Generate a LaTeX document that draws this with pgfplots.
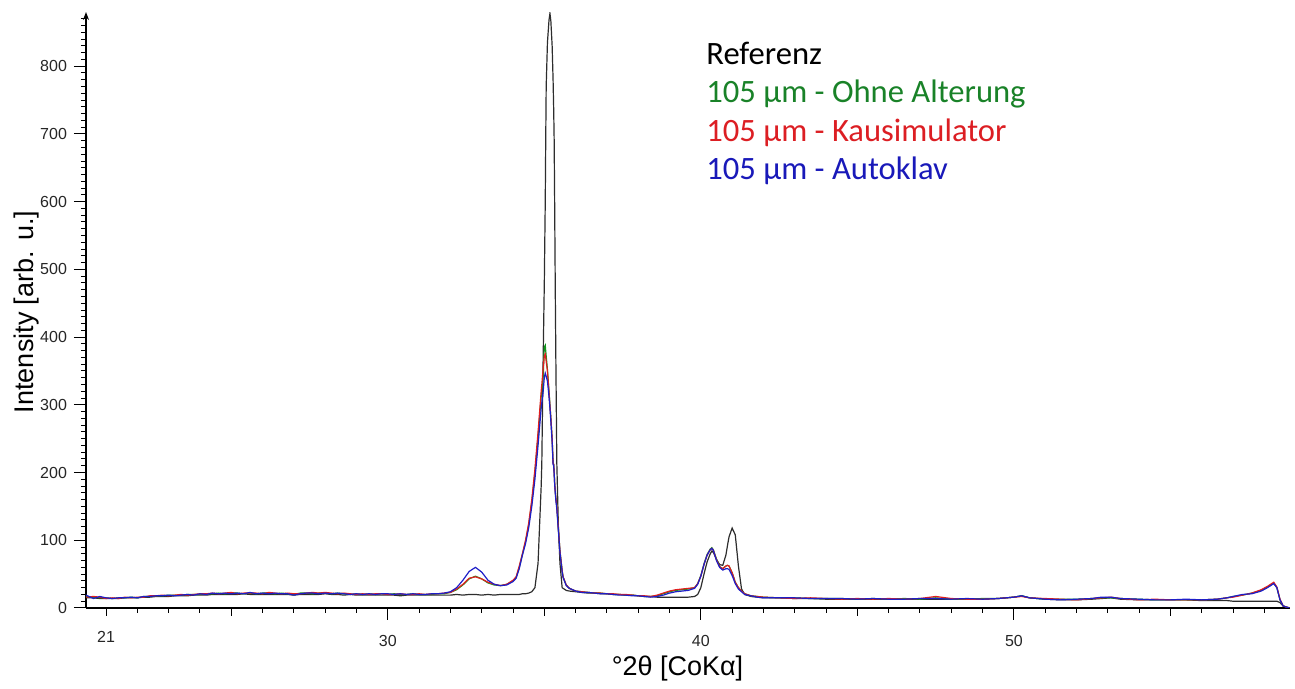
\documentclass[border=0pt]{standalone}
\usepackage{pgfplots}
\pgfplotsset{compat=1.18}
\usepackage{pgfplotstable}
\usepackage{fontspec}
\setmainfont{Liberation Sans}
\newfontfamily\legfont{Carlito}
\usetikzlibrary{arrows.meta}

\definecolor{refc}{RGB}{45,45,45}
\definecolor{ohnec}{RGB}{20,150,30}
\definecolor{kauc}{RGB}{225,30,30}
\definecolor{autoc}{RGB}{30,30,200}
\definecolor{ohneT}{RGB}{25,130,40}
\definecolor{kauT}{RGB}{220,30,35}
\definecolor{autoT}{RGB}{25,25,185}

% columns: 2theta, Referenz, Ohne Alterung, Kausimulator, Autoklav
\pgfplotstableread{
x      ref  ohne kau  auto
20.36  15   17   16   19
20.6   15   16   17   14
20.8   14   15   16   17
21.0   14   15   14   15
21.2   14   14   15   14
21.4   14   15   14   15
21.6   15   15   16   15
21.8   15   16   15   16
22.0   15   15   16   15
22.2   16   17   16   17
22.4   16   17   18   17
22.6   17   18   18   18
22.8   17   18   19   18
23.0   17   19   18   19
23.2   18   19   19   18
23.4   18   19   20   19
23.6   18   20   19   20
23.8   19   20   20   19
24.0   19   20   21   21
24.2   19   21   21   20
24.4   20   21   22   22
24.6   20   22   21   21
24.8   20   21   22   22
25.0   20   22   23   21
25.2   20   22   21   22
25.4   21   21   22   21
25.6   20   22   22   23
25.8   20   21   22   21
26.0   20   22   21   22
26.2   20   22   23   21
26.4   20   21   22   22
26.6   20   22   21   21
26.8   20   21   22   21
27.0   19   20   21   19
27.2   20   22   21   21
27.4   20   22   22   22
27.6   20   21   23   22
27.8   20   22   22   21
28.0   21   22   23   22
28.2   20   21   22   21
28.4   20   22   21   22
28.6   19   21   22   21
28.8   20   20   21   20
29.0   19   21   20   21
29.2   19   20   21   20
29.4   19   21   20   21
29.6   19   20   21   20
29.8   19   21   21   21
30.0   19   20   20   21
30.2   19   21   20   20
30.4   18   20   21   21
30.6   19   20   20   20
30.8   19   21   20   21
31.0   19   20   21   20
31.2   19   20   20   20
31.4   19   20   21   21
31.6   19   21   21   21
31.8   19   21   22   22
32.0   19   23   23   24
32.2   20   27   28   30
32.4   19   34   35   41
32.6   20   43   44   54
32.8   20   47   46   60
33.0   19   43   43   53
33.2   20   37   38   41
33.4   19   34   35   35
33.6   20   33   33   33
33.8   20   35   35   34
34.0   20   40   41   39
34.1   20   45   46   44
34.2   20   60   62   58
34.3   21   79   80   78
34.4   21   98   100  95
34.5   22   122  125  118
34.6   24   156  160  150
34.7   30   200  205  190
34.8   66   252  260  240
34.9   180  312  320  295
34.92  213  320  330  303
34.96  360  338  352  318
35.0   480  385  372  340
35.03  600  388  375  347
35.045 690  380  370  345
35.06  770  372  364  342
35.1   835  352  350  335
35.15  868  320  318  312
35.18  878  300  298  295
35.21  866  280  280  275
35.25  830  250  250  245
35.28  780  215  214  212
35.3   735  212  212  210
35.315 690  200  200  198
35.33  600  185  185  183
35.35  470  172  172  170
35.37  360  162  162  158
35.4   213  150  150  146
35.45  120  116  117  114
35.5   66   84   84   82
35.57  30   55   55   53
35.6   29   46   46   45
35.7   26   34   34   33
35.8   25   29   29   29
36.0   24   25   25   25
36.2   23   24   24   23
36.4   22   23   23   23
36.6   22   22   22   22
36.8   21   22   22   21
37.0   21   21   21   21
37.2   20   20   21   20
37.4   20   20   20   19
37.6   19   19   20   19
37.8   19   19   19   18
38.0   18   18   18   18
38.2   17   17   18   17
38.4   17   17   17   16
38.6   16   18   19   17
38.8   16   21   22   19
39.0   16   24   25   22
39.2   16   26   27   24
39.4   16   27   28   25
39.6   16   28   29   26
39.8   17   30   30   29
39.9   20   36   36   35
40.0   30   48   47   47
40.1   50   65   64   64
40.2   68   79   78   78
40.3   80   87   86   86
40.35  84   89   88   88
40.4   82   86   85   85
40.5   72   72   71   70
40.6   64   61   61   60
40.7   63   58   58   56
40.8   78   62   62   58
40.85  92   63   63   58
40.9   105  62   62   57
41.0   118  52   52   48
41.1   108  38   38   36
41.2   62   30   30   28
41.3   28   25   25   24
41.4   20   21   21   20
41.6   17   18   18   18
41.8   16   17   17   16
42.0   15   16   16   15
42.5   15   15   15   15
43.0   14   15   14   15
43.5   14   14   15   14
44.0   13   14   14   14
44.5   13   14   13   14
45.0   13   13   14   13
45.5   13   14   13   14
46.0   13   13   14   13
46.5   13   14   13   13
47.0   13   13   14   14
47.5   13   15   17   14
48.0   13   13   14   13
48.5   13   13   13   14
49.0   13   14   13   13
49.5   14   14   14   14
50.0   16   16   16   16
50.25  18   18   17   18
50.5   15   15   15   15
51.0   13   13   14   13
51.5   12   13   13   12
52.0   12   13   12   13
52.5   13   14   14   14
52.8   14   15   15   16
53.1   15   15   16   16
53.4   13   14   14   14
54.0   12   13   12   13
54.5   12   12   13   12
55.0   12   12   12   12
55.5   12   12   12   13
56.0   11   12   12   12
56.5   11   13   13   13
56.8   11   15   15   15
57.0   10   17   16   17
57.3   10   19   19   20
57.6   10   22   22   21
57.9   10   26   27   25
58.1   10   31   32   30
58.3   10   37   38   36
58.4   10   30   31   30
58.5   8    12   13   12
58.6   3    3    3    3
58.8   0    0    0    0
}\xrd

\begin{document}
\begin{tikzpicture}
\path[use as bounding box] (0,0) rectangle (647.5pt,344.5pt);
\begin{axis}[
    at={(43pt,40.5pt)}, anchor=south west,
    scale only axis, width=602pt, height=298pt,
    xmin=20.36, xmax=58.82, ymin=0, ymax=880,
    axis x line=bottom, axis y line=left,
    x axis line style={-},
    y axis line style={-{Stealth[length=4pt,width=3pt]}},
    tick align=outside,
    xtick={30,40,50},
    minor xtick={21,...,58},
    extra x ticks={21,25,35,45,55},
    extra x tick labels={21},
    extra x tick style={major tick length=4pt},
    ytick={0,100,...,800},
    minor ytick={0,10,...,870},
    major tick length=6pt, minor tick length=2.5pt,
    tick style={black, line width=0.5pt},
    axis line style={black, line width=0.6pt},
    ticklabel style={font=\fontsize{8}{9}\selectfont, text=black!85},
    /pgf/number format/assume math mode=true,
    xticklabel style={anchor=center, yshift=-10.5pt},
    yticklabel style={anchor=east},
    every axis plot/.append style={line width=0.6pt},
]
\addplot[refc, no markers] table[x=x, y=ref] {\xrd};
\addplot[ohnec, no markers] table[x=x, y=ohne] {\xrd};
\addplot[kauc, no markers] table[x=x, y=kau] {\xrd};
\addplot[autoc, no markers] table[x=x, y=auto] {\xrd};
\end{axis}
\node[font=\fontsize{13.5}{16}\selectfont] at (338.75pt,10pt) {°2θ [CoKα]};
\node[font=\fontsize{13.5}{16}\selectfont, rotate=90] at (13.5pt,188.5pt) {Intensity [arb. u.]};
\begin{scope}[every node/.style={anchor=base west, inner sep=0pt, font=\legfont\fontsize{16.3}{19}\selectfont}]
\node[text=black] at (353pt,312pt) {Referenz};
\node[text=ohneT] at (353pt,293.15pt) {105 µm - Ohne Alterung};
\node[text=kauT] at (353pt,273.65pt) {105 µm - Kausimulator};
\node[text=autoT] at (353pt,254.5pt) {105 µm - Autoklav};
\end{scope}
\end{tikzpicture}
\end{document}
